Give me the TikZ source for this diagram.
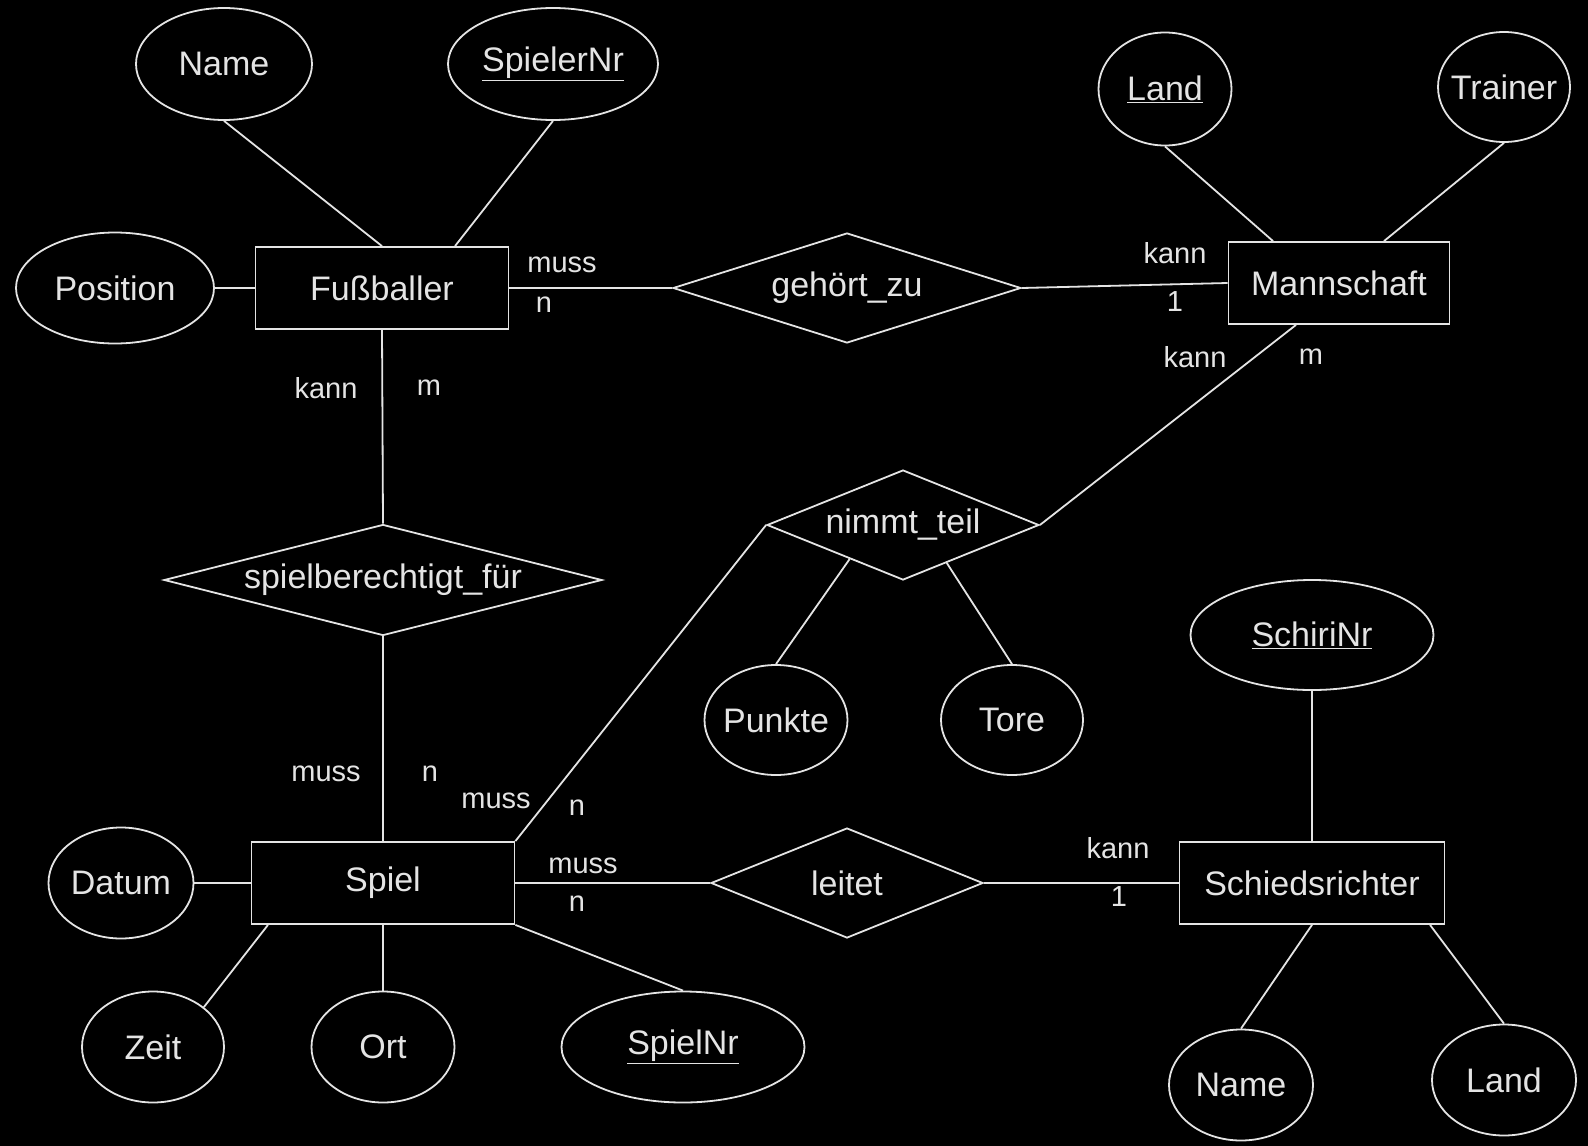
\documentclass[tikz,border=0pt]{standalone}
\usepackage{fontspec}
\setmainfont{Liberation Sans}
\usetikzlibrary{shapes.geometric,calc}
\definecolor{ink}{RGB}{228,228,228}
% keep node text from widening the outline
\newcommand{\ctr}[1]{\makebox[0pt]{#1}}

\begin{document}
\begin{tikzpicture}[x=1pt,y=-1pt,
  base/.style={draw=ink, line width=1.8pt, text=ink, inner sep=0pt,
    font=\fontsize{34}{40}\selectfont},
  entity/.style={base, rectangle, minimum width=#1, minimum height=82pt},
  attr/.style 2 args={base, ellipse, minimum width=#1, minimum height=#2},
  rel/.style 2 args={base, diamond, minimum width=#1, minimum height=#2},
  conn/.style={draw=ink, line width=1.8pt},
  card/.style={text=ink, inner sep=0pt, font=\fontsize{29}{34}\selectfont}
]
% canvas
\fill[black] (0,0) rectangle (1588,1146);
\useasboundingbox (0,0) rectangle (1588,1146);

% entities
\node[entity=253pt] (F)  at (382,288)  {\ctr{Fußballer}};
\node[entity=221pt] (M)  at (1339,283) {\ctr{Mannschaft}};
\node[entity=263pt] (S)  at (383,883)  {\ctr{Spiel}};
\node[entity=265pt] (SR) at (1312,883) {\ctr{Schiedsrichter}};

% relationships
\node[rel={348pt}{110pt}] (G)  at (847,288) {\ctr{gehört\_zu}};
\node[rel={438pt}{111pt}] (SB) at (383,580) {\ctr{spielberechtigt\_für}};
\node[rel={272pt}{110pt}] (NT) at (903,525) {\ctr{nimmt\_teil}};
\node[rel={272pt}{110pt}] (L)  at (847,883) {\ctr{leitet}};

% attributes
\node[attr={176pt}{112pt}] (aName)   at (224,64)    {\ctr{Name}};
\node[attr={210pt}{112pt}] (aSNr)    at (553,64)    {\ctr{\underline{SpielerNr}}};
\node[attr={198pt}{111pt}] (aPos)    at (115,288)   {\ctr{Position}};
\node[attr={133pt}{113pt}] (aLand)   at (1165,89)   {\ctr{\underline{Land}}};
\node[attr={132pt}{110pt}] (aTrain)  at (1504,87)   {\ctr{Trainer}};
\node[attr={145pt}{111pt}] (aDatum)  at (121,883)   {\ctr{Datum}};
\node[attr={142pt}{111pt}] (aZeit)   at (153,1047)  {\ctr{Zeit}};
\node[attr={143pt}{111pt}] (aOrt)    at (383,1047)  {\ctr{Ort}};
\node[attr={243pt}{111pt}] (aSpNr)   at (683,1047)  {\ctr{\underline{SpielNr}}};
\node[attr={143pt}{110pt}] (aPunkte) at (776,720)   {\ctr{Punkte}};
\node[attr={142pt}{110pt}] (aTore)   at (1012,720)  {\ctr{Tore}};
\node[attr={243pt}{110pt}] (aSchiri) at (1312,635)  {\ctr{\underline{SchiriNr}}};
\node[attr={144pt}{111pt}] (aName2)  at (1241,1085) {\ctr{Name}};
\node[attr={144pt}{111pt}] (aLand2)  at (1504,1080) {\ctr{Land}};

% attribute links
\draw[conn] (aName.south) -- (F.north);
\draw[conn] (aSNr.south) -- ([xshift=73pt]F.north);
\draw[conn] (aPos.east) -- (F.west);
\draw[conn] (aLand.south) -- ([xshift=-66pt]M.north);
\draw[conn] (aTrain.south) -- ([xshift=45pt]M.north);
\draw[conn] (aDatum.east) -- (S.west);
\draw[conn] ([xshift=-115pt]S.south) -- (aZeit.north east);
\draw[conn] (S.south) -- (aOrt.north);
\draw[conn] (S.south east) -- (aSpNr.north);
\draw[conn] ($(NT.west)!0.61!(NT.south)$) -- (aPunkte.north);
\draw[conn] ($(NT.south)!0.32!(NT.east)$) -- (aTore.north);
\draw[conn] (aSchiri.south) -- (SR.north);
\draw[conn] (SR.south) -- (aName2.north);
\draw[conn] ([xshift=118pt]SR.south) -- (aLand2.north);

% relationship links
\draw[conn] (F.east) -- (G.west);
\draw[conn] (G.east) -- (M.west);
\draw[conn] (F.south) -- (SB.north);
\draw[conn] (SB.south) -- (S.north);
\draw[conn] ([xshift=-43pt]M.south) -- (NT.east);
\draw[conn] (S.north east) -- (NT.west);
\draw[conn] (S.east) -- (L.west);
\draw[conn] (L.east) -- (SR.west);

% cardinalities
\node[card] (c1)  at (562,265) {muss};
\node[card] (c2)  at (544,305) {n};
\node[card] (c3)  at (1175,253) {kann};
\node[card] (c4)  at (1175,302) {1};
\node[card] (c5)  at (326,388) {kann};
\node[card] (c6)  at (429,388) {m};
\node[card] (c7)  at (326,774) {muss};
\node[card] (c8)  at (430,774) {n};
\node[card] (c9)  at (1195,357) {kann};
\node[card] (c10) at (1311,357) {m};
\node[card] (c11) at (496,801) {muss};
\node[card] (c12) at (577,808) {n};
\node[card] (c13) at (583,866) {muss};
\node[card] (c14) at (577,904) {n};
\node[card] (c15) at (1118,848) {kann};
\node[card] (c16) at (1119,897) {1};
\end{tikzpicture}
\end{document}
